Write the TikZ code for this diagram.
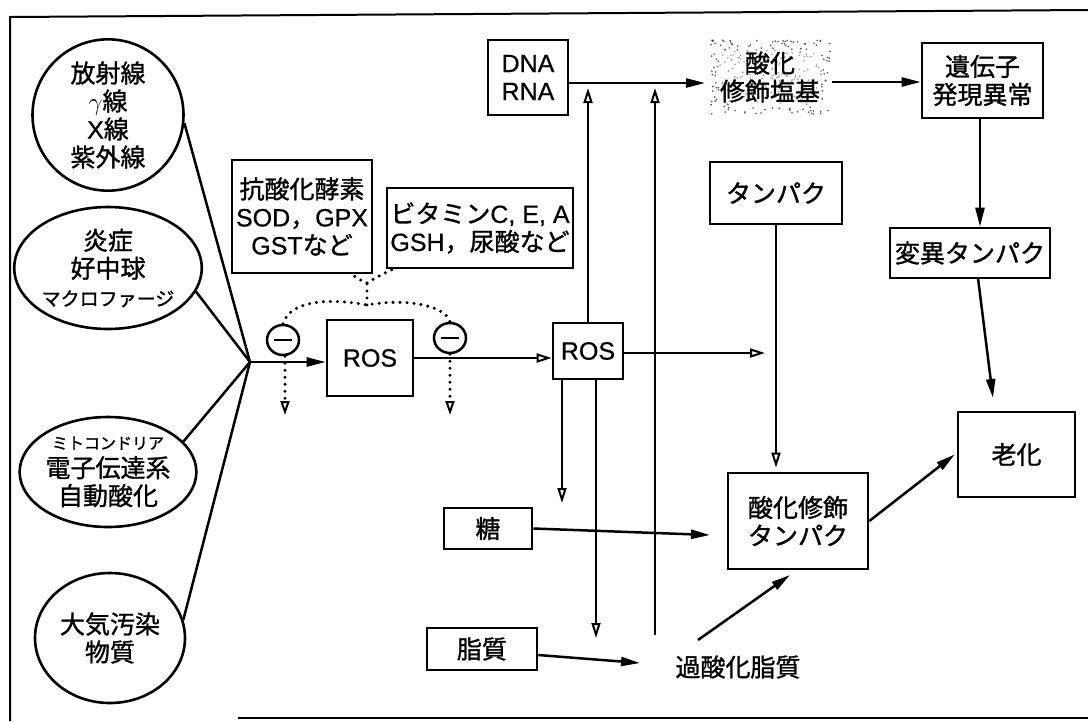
\documentclass[tikz,border=0pt]{standalone}
\usepackage{fontspec}
\setmainfont{Noto Sans CJK JP}[FakeBold=1.2]
\newfontfamily\lat{Liberation Sans}[FakeBold=0.6]
\usetikzlibrary{arrows.meta,calc,shapes.geometric}
\begin{document}
\begin{tikzpicture}[x=1pt,y=-1pt,
  every node/.style={font=\fontsize{25}{28}\selectfont},
  box/.style={draw,line width=2.6pt,align=center,inner sep=0pt},
  oval/.style={draw,ellipse,line width=2.6pt,align=center,inner sep=0pt},
  ln/.style={line width=2.5pt},
  sol/.style={ln,-{Triangle[length=19pt,width=9pt]}},
  opn/.style={ln,-{Triangle[open,length=15pt,width=9pt,line width=2pt]}},
  dotl/.style={line width=3.4pt,line cap=round,dash pattern=on 0pt off 7pt},
  minus/.style={draw,ellipse,line width=2.5pt,minimum width=32pt,minimum height=30pt,inner sep=0pt,
    path picture={\draw[line width=2.4pt] ([xshift=-9pt]path picture bounding box.center) -- ([xshift=9pt]path picture bounding box.center);}},
  latn/.style={font=\lat\fontsize{25}{28}\selectfont}
]
\useasboundingbox (0,0) rectangle (1088,721);
% frame
\draw[line width=2pt] (1088,10) -- (10,17) -- (10,721);
\draw[line width=2pt] (238,718) -- (1088,718);

% ellipses
\node[oval,minimum width=151pt,minimum height=120pt] (e1) at (108,115) {放射線\\$\gamma$線\\{\lat X}線\\紫外線};
\node[oval,minimum width=151pt,minimum height=122pt] (e2) at (108,268) {炎症\\好中球\\{\fontsize{19}{28}\selectfont マクロファージ}};
\node[oval,minimum width=150pt,minimum height=110pt] (e3) at (108,472) {{\fontsize{16}{24}\selectfont ミトコンドリア}\\電子伝達系\\自動酸化};
\node[oval,minimum width=150pt,minimum height=130pt] (e4) at (110,638) {大気汚染\\物質};
\coordinate (conv) at (250,362);
\draw[ln] (e1.-6) -- (conv);
\draw[ln] (e2.-15) -- (conv);
\draw[ln] (e3.22) -- (conv);
\draw[ln] (e4.14) -- (conv);

% antioxidant boxes
\node[box,minimum width=140pt,minimum height=113pt] (abox) at (302,216.5) {抗酸化酵素\\{\lat SOD}，{\lat GPX}\\{\lat GST}など};
\node[box,minimum width=186pt,minimum height=80pt] (vbox) at (480,228) {ビタミン{\lat C, E, A}\\{\lat GSH}，尿酸など};

% ROS boxes
\node[box,latn,minimum width=86pt,minimum height=76pt] (ros1) at (370,358) {ROS};
\node[box,latn,minimum width=70pt,minimum height=56pt] (ros2) at (588,351) {ROS};
\node[minus] (m1) at (283,340) {};
\node[minus] (m2) at (450,338) {};

\draw[sol] (conv) -- (ros1.west |- conv);
\draw[opn] (ros1.east) -- (ros2.west |- ros1.east);

% dotted inhibition
\coordinate (j) at (367,305);
\coordinate (jt) at (367,283);
\draw[dotl] (m1.north) .. controls (290,300) and (330,298) .. (j) .. controls (405,298) and (445,305) .. (m2.north);
\draw[dotl] (j) -- (jt);
\draw[dotl] (jt) .. controls (360,280) .. (350,273);
\draw[dotl] (jt) .. controls (375,278) .. (395,268);
\coordinate (d1) at (285,415);
\coordinate (d2) at (450,415);
\draw[dotl,-{Triangle[open,length=14pt,width=9pt,line width=2pt]}] (m1.south -| d1) -- (d1);
\draw[dotl,-{Triangle[open,length=14pt,width=9pt,line width=2pt]}] (m2.south) -- (d2);

% DNA branch
\node[box,latn,minimum width=80pt,minimum height=75pt,align=center] (dna) at (528,77.5) {DNA\\RNA};
\pgfmathsetseed{11}
\foreach \i in {1,...,300}{
  \pgfmathsetmacro\xx{711+120*rnd}
  \pgfmathsetmacro\yy{40+74*rnd}
  \fill[black!70] (\xx,\yy) circle (0.9);
}
\node[align=center,fill=white,fill opacity=0.45,text opacity=1,inner sep=1pt] (base) at (770,77) {酸化\\修飾塩基};
\node[box,minimum width=121pt,minimum height=75pt] (gene) at (982.5,80.5) {遺伝子\\発現異常};
\node[box,minimum width=160pt,minimum height=50pt] (mut) at (970,253) {変異タンパク};
\node[box,minimum width=117pt,minimum height=85pt] (aging) at (1016.5,454.5) {老化};

\coordinate (bl) at (705,83);
\draw[sol] (dna.east |- bl) -- (bl);
\coordinate (br) at (832,82);
\draw[sol] (br) -- (gene.west |- br);
\coordinate (gs) at (980,118);
\draw[sol] (gs) -- (gs |- mut.north);
\coordinate (ms) at (978,278);
\coordinate (at) at (993,398);
\draw[sol] (ms) -- (at);

% protein branch
\node[box,minimum width=132pt,minimum height=62pt] (prot) at (776,193) {タンパク};
\node[box,minimum width=140pt,minimum height=96pt] (oxprot) at (798,521) {酸化修飾\\タンパク};
\draw[opn] (prot.south) -- ($(prot.south |- oxprot.north)+(0,-4)$);
\draw[sol] (oxprot.east) -- ($(aging.west)+(-2,0)$);

\coordinate (rr) at (765,353);
\draw[opn] (ros2.east |- rr) -- (rr);

% vertical ROS lines
\coordinate (u1) at (588,88);
\draw[opn] (ros2.north) -- (u1);
\coordinate (l2b) at (655,635);
\coordinate (u2) at (655,88);
\draw[opn] (l2b) -- (u2);
\coordinate (r1s) at (562,379);
\coordinate (r1e) at (562,503);
\draw[opn] (r1s) -- (r1e);
\coordinate (r2s) at (596,379);
\coordinate (r2e) at (596,638);
\draw[opn] (r2s) -- (r2e);

% sugar / lipid
\node[box,minimum width=88pt,minimum height=41pt] (sugar) at (488,528.5) {糖};
\node[box,minimum width=110pt,minimum height=42pt] (lipid) at (482,649) {脂質};
\node (perox) at (738,667) {過酸化脂質};
\coordinate (se) at (710,535);
\draw[sol] (sugar.east) -- (se);
\coordinate (le) at (640,663);
\draw[sol] ($(lipid.east)+(0,6)$) -- (le);
\coordinate (ps) at (698,640);
\coordinate (pe) at (790,575);
\draw[sol] (ps) -- (pe);
\end{tikzpicture}
\end{document}
